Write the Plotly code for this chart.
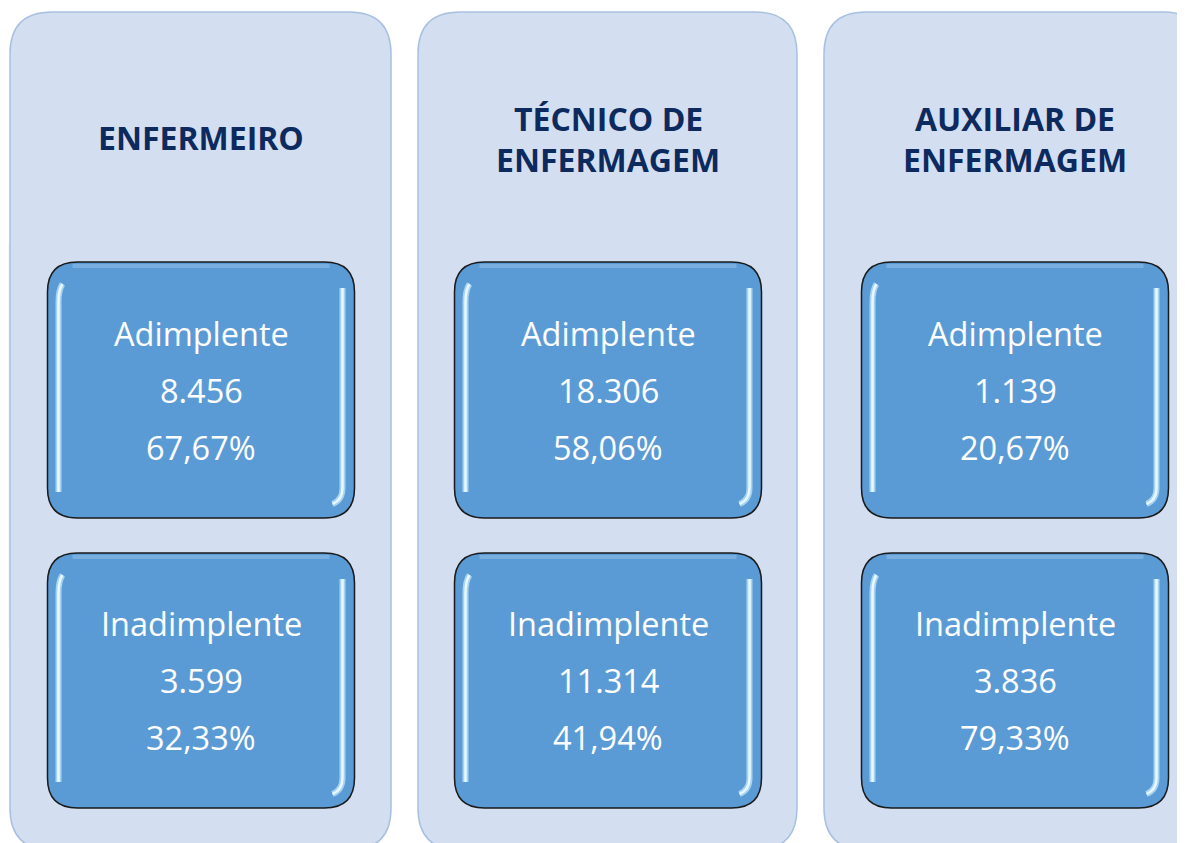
import plotly.graph_objects as go

# ---- data ----
categories = [["ENFERMEIRO"], ["TÉCNICO DE", "ENFERMAGEM"], ["AUXILIAR DE", "ENFERMAGEM"]]
status_labels = ["Adimplente", "Inadimplente"]
adimplente_counts = ["8.456", "18.306", "1.139"]
adimplente_pct = ["67,67%", "58,06%", "20,67%"]
inadimplente_counts = ["3.599", "11.314", "3.836"]
inadimplente_pct = ["32,33%", "41,94%", "79,33%"]

W, H = 1185, 843
OFF = 8  # page body margin
PANEL_X = [(10, 391), (418, 797), (824, 1205)]
PANEL_Y = (12, 850)
BOX_W = 307
BOX_Y = [(262, 518), (553, 808)]

PANEL_FILL = "#D3DEF0"
PANEL_LINE = "#A8C1E0"
BOX_FILL = "#5B9BD5"
TITLE_COLOR = "#0D2A5E"


def rrect(x0, y0, x1, y1, r):
    return (f"M {x0+r},{y0} L {x1-r},{y0} Q {x1},{y0} {x1},{y0+r} "
            f"L {x1},{y1-r} Q {x1},{y1} {x1-r},{y1} L {x0+r},{y1} "
            f"Q {x0},{y1} {x0},{y1-r} L {x0},{y0+r} Q {x0},{y0} {x0+r},{y0} Z")


fig = go.Figure()
shapes = []
annotations = []

# faint background swooshes
shapes.append(dict(type="path", xref="x", yref="y",
                   path="M 0,200 Q 50,420 0,700 Z",
                   fillcolor="rgba(200,200,200,0.15)", line=dict(width=0), layer="below"))

for i, (px0, px1) in enumerate(PANEL_X):
    shapes.append(dict(type="path", xref="x", yref="y",
                       path=rrect(px0, PANEL_Y[0], px1, PANEL_Y[1], 42),
                       fillcolor=PANEL_FILL, line=dict(color=PANEL_LINE, width=1.5),
                       layer="below"))
    cx = (px0 + px1) / 2 + 0.5
    # title
    lines = categories[i]
    if len(lines) == 1:
        ys = [137]
    else:
        ys = [118, 159]
    for t, yy in zip(lines, ys):
        annotations.append(dict(x=cx, y=yy, xref="x", yref="y", text=f"<b>{t}</b>",
                                showarrow=False, xanchor="center", yanchor="middle",
                                font=dict(family="Open Sans", size=32, color=TITLE_COLOR)))
    # boxes
    bx0 = cx - BOX_W / 2
    bx1 = cx + BOX_W / 2
    box_texts = [
        [status_labels[0], adimplente_counts[i], adimplente_pct[i]],
        [status_labels[1], inadimplente_counts[i], inadimplente_pct[i]],
    ]
    for j, (by0, by1) in enumerate(BOX_Y):
        shapes.append(dict(type="path", xref="x", yref="y",
                           path=rrect(bx0, by0, bx1, by1, 30),
                           fillcolor=BOX_FILL, line=dict(color="#1A1A1A", width=1.5),
                           layer="below"))
        # top soft highlight
        shapes.append(dict(type="path", xref="x", yref="y",
                           path=f"M {bx0+25},{by0+4} L {bx1-25},{by0+4}",
                           line=dict(color="rgba(150,195,235,0.5)", width=4), layer="below"))
        # side glossy highlights
        for col, wd in (("rgba(200,235,255,0.7)", 6), ("#E8F8FF", 2.5)):
            shapes.append(dict(type="path", xref="x", yref="y",
                               path=f"M {bx0+15},{by0+22} Q {bx0+11},{by0+28} {bx0+11},{by0+40} L {bx0+11},{by1-26}",
                               line=dict(color=col, width=wd), layer="below"))
            shapes.append(dict(type="path", xref="x", yref="y",
                               path=f"M {bx1-12},{by0+26} L {bx1-12},{by1-30} Q {bx1-12},{by1-18} {bx1-22},{by1-14}",
                               line=dict(color=col, width=wd), layer="below"))
        offs = [0, 57, 114]
        base = by0 + 71 if j == 0 else by0 + 70
        for t, o in zip(box_texts[j], offs):
            annotations.append(dict(x=cx, y=base + o, xref="x", yref="y", text=t,
                                    showarrow=False, xanchor="center", yanchor="middle",
                                    font=dict(family="Open Sans", size=32.5, color="white")))

fig.update_layout(
    width=W, height=H,
    margin=dict(l=0, r=0, t=0, b=0),
    paper_bgcolor="white", plot_bgcolor="white",
    xaxis=dict(range=[OFF, W + OFF], visible=False, fixedrange=True),
    yaxis=dict(range=[H + OFF, OFF], visible=False, fixedrange=True),
    shapes=shapes, annotations=annotations,
    showlegend=False,
)

fig.write_html("out.html")
